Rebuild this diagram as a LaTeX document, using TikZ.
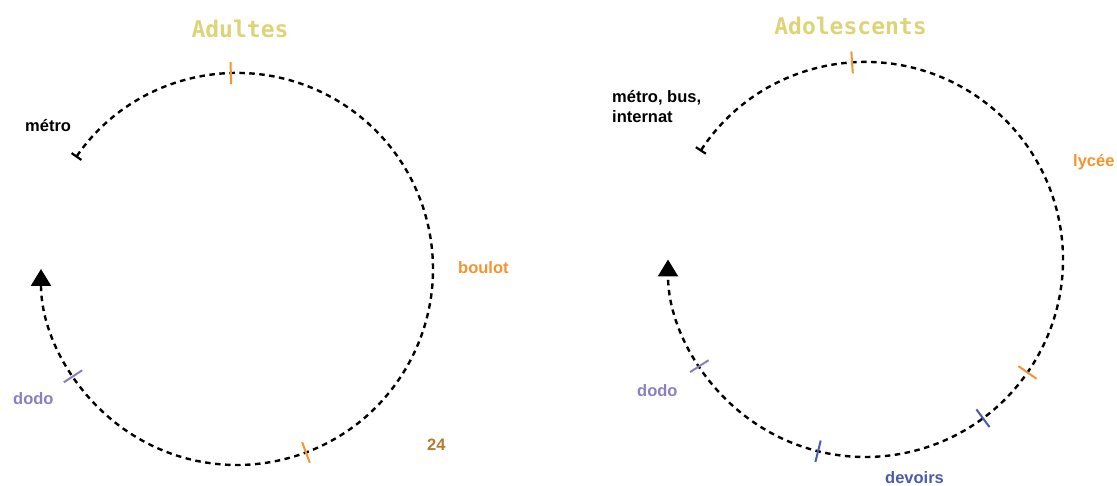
\documentclass[tikz,border=0pt]{standalone}
\usepackage{fontspec}
\setmainfont{Liberation Sans}
\newfontfamily\titlefont{DejaVu Sans Mono}
\usetikzlibrary{arrows.meta,calc}
\definecolor{titlecol}{RGB}{221,212,120}
\definecolor{orangec}{RGB}{246,147,45}
\definecolor{purplec}{RGB}{138,127,192}
\definecolor{bluec}{RGB}{72,92,172}
\definecolor{brownc}{RGB}{182,122,48}
\begin{document}
\begin{tikzpicture}[x=1pt,y=1pt,
  cyc/.style={line width=2.4pt, dash pattern=on 5.5pt off 4.5pt,
    {Bar[width=12pt,line width=2.2pt]}-{Triangle[width=20pt,length=17pt]}},
  tickmark/.style={line width=2pt},
  lbl/.style={font=\fontsize{16.5}{20}\selectfont\bfseries, anchor=base west, inner sep=0pt, align=left},
  ttl/.style={font=\titlefont\bfseries\fontsize{23}{28}\selectfont, text=titlecol, anchor=base, inner sep=0pt}]
\useasboundingbox (0,0) rectangle (1117,486);
% centres
\coordinate (cL) at (237,217);
\coordinate (cR) at (865.5,226.5);
% cycles
\draw[cyc] ($(cL)+(145.3:196)$) arc[start angle=145.3, end angle=-180, radius=196];
\draw[cyc] ($(cR)+(146.8:197.5)$) arc[start angle=146.8, end angle=-180, radius=197.5];
% ticks left
\foreach \a/\c in {91.8/orangec, -69.4/orangec, -146.8/purplec}
  \draw[tickmark, \c] ($(cL)+(\a:185)$) -- ($(cL)+(\a:207)$);
% ticks right
\foreach \a/\c in {93.9/orangec, -34.9/orangec, -53.5/bluec, -103.9/bluec, -147.3/purplec}
  \draw[tickmark, \c] ($(cR)+(\a:186.5)$) -- ($(cR)+(\a:208.5)$);
% labels left
\node[ttl] (tA) at (240,448.5) {Adultes};
\node[lbl] (mL) at (25,354) {métro};
\node[lbl, text=orangec] (bL) at (458,212) {boulot};
\node[lbl, text=brownc] (n24) at (427,35) {24};
\node[lbl, text=purplec] (dL) at (13,81) {dodo};
% labels right
\node[ttl] (tB) at (850.5,451.5) {Adolescents};
\node[lbl] (mR) at (612,363) {métro, bus,\\internat};
\node[lbl, text=orangec] (ly) at (1073,319) {lycée};
\node[lbl, text=purplec] (dR) at (637,89) {dodo};
\node[lbl, text=bluec] (dv) at (885,2) {devoirs};
\end{tikzpicture}
\end{document}
